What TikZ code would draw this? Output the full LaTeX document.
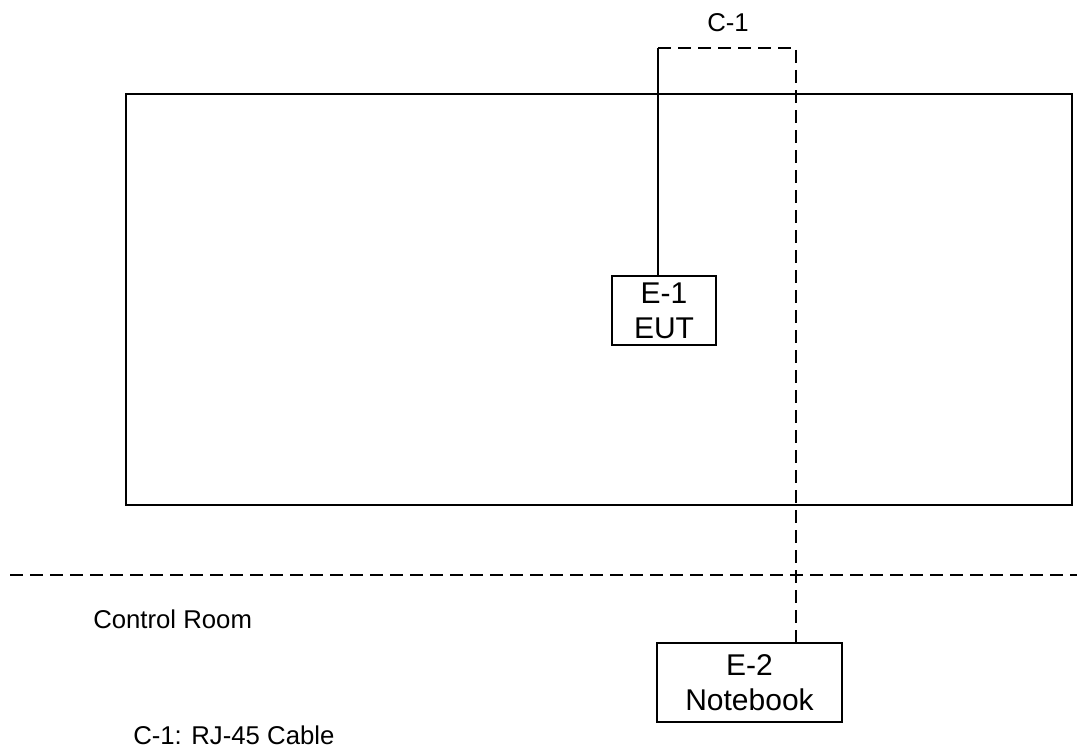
\documentclass[tikz,border=0pt]{standalone}
\usepackage{fontspec}
\setmainfont{Liberation Sans}
\begin{document}
\begin{tikzpicture}[x=0.75pt,y=-0.75pt,
  line/.style={line width=1.1pt, line cap=butt},
  dashline/.style={line, dash pattern=on 9.75pt off 5.25pt},
  boxnode/.style={draw, line width=1.1pt, align=center, inner sep=0pt,
    font=\fontsize{22.5}{26.5}\selectfont},
  lbl/.style={inner sep=0pt, font=\fontsize{19.3}{22}\selectfont}]
\useasboundingbox (0,0) rectangle (1077,749);
% room
\node[draw, line width=1.1pt, minimum width=709.5pt, minimum height=308.25pt, inner sep=0pt] (room) at (599,299.5) {};
% equipment
\node[boxnode, minimum width=78pt, minimum height=51.75pt] (e1) at (664,310.5) {E-1\\EUT};
\node[boxnode, minimum width=138.75pt, minimum height=59.25pt] (e2) at (749.5,682.5) {E-2\\Notebook};
% cable route
\coordinate (b1) at (658,48);
\coordinate (b2) at (796,48);
\draw[line] (e1.north -| b1) -- (b1);
\draw[dashline] (b1) -- (b2) -- (e2.north -| b2);
% boundary
\coordinate (wl) at (10,575);
\coordinate (wr) at (1077,575);
\draw[dashline] (wl) -- (wr);
% labels
\node[lbl, anchor=base west] (c1) at (707,32) {C-1};
\node[lbl, anchor=base west] (cr) at (93,628) {Control Room};
\node[lbl, anchor=base west] (leg) at (133,744) {C-1: RJ-45 Cable};
\end{tikzpicture}
\end{document}
